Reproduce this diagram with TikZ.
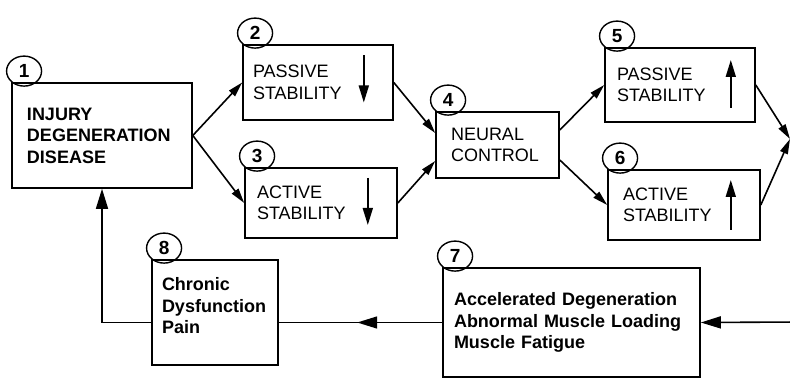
\documentclass[tikz,border=0pt]{standalone}
\usepackage{fontspec}
\setmainfont{Liberation Sans}
\usetikzlibrary{arrows.meta,calc,shapes.geometric,decorations.markings}

\begin{document}
\begin{tikzpicture}[x=1pt,y=1pt,
  font=\fontsize{18}{21.5}\selectfont,
  line width=1.6pt,
  box/.style={draw,rectangle,align=left,inner ysep=0pt},
  heavy/.style={font=\fontsize{18}{21.5}\selectfont\bfseries},
  num/.style={draw,ellipse,inner sep=0pt,minimum width=35pt,minimum height=30pt,
    line width=1.4pt,anchor=south west,font=\fontsize{19}{19}\selectfont\bfseries},
  link/.style={-{Triangle[length=15pt,width=8pt]}},
  bigtip/.style={-{Triangle[length=20pt,width=12pt]}},
  inarrow/.style={line width=1.7pt,-{Triangle[length=17pt,width=10pt]}},
  midtip/.style={postaction={decorate},decoration={markings,
    mark=at position 0.52 with {\arrow{Triangle[length=20pt,width=12pt]}}}}]
\path[use as bounding box] (0,0) rectangle (790,380);
\clip (0,0) rectangle (790,380);

% boxes
\node[box,heavy,text width=150pt,inner xsep=15pt,minimum height=105pt] (injury) at (102,244.5)
  {INJURY\\DEGENERATION\\DISEASE};
\node[box,text width=130pt,inner xsep=10pt,minimum height=75pt] (passive) at (318,297.5)
  {PASSIVE\\STABILITY};
\node[box,text width=128pt,inner xsep=12pt,minimum height=70pt] (active) at (321,177)
  {ACTIVE\\STABILITY};
\node[box,text width=93pt,inner xsep=15pt,minimum height=66pt] (neural) at (497.5,235)
  {NEURAL\\CONTROL};
\node[box,text width=126pt,inner xsep=12pt,minimum height=74pt] (passiveup) at (680,295)
  {PASSIVE\\STABILITY};
\node[box,text width=122pt,inner xsep=15pt,minimum height=70pt] (activeup) at (684,175)
  {ACTIVE\\STABILITY};
\node[box,heavy,text width=235pt,inner xsep=11pt,minimum height=109pt] (loading) at (571.5,57.5)
  {Accelerated Degeneration\\Abnormal Muscle Loading\\Muscle Fatigue};
\node[box,heavy,text width=106pt,inner xsep=10pt,minimum height=105pt] (chronic) at (215,67.5)
  {Chronic\\Dysfunction\\Pain\\[-8pt]\mbox{}};

% numbers
\node[num] (n1) at (injury.north west) {1};
\node[num] (n2) at (passive.north west) {2};
\node[num] (n3) at (active.north west) {3};
\node[num] (n4) at (neural.north west) {4};
\node[num] (n5) at (passiveup.north west) {5};
\node[num] (n6) at (activeup.north west) {6};
\node[num] (n7) at (loading.north west) {7};
\node[num] (n8) at (chronic.north west) {8};

% up and down arrows
\draw[inarrow] ($(passive.east)+(-30,27)$) -- ($(passive.east)+(-30,-20)$);
\draw[inarrow] ($(active.east)+(-30,25)$) -- ($(active.east)+(-30,-22)$);
\draw[inarrow] ($(passiveup.east)+(-25,-23)$) -- ($(passiveup.east)+(-25,25)$);
\draw[inarrow] ($(activeup.east)+(-30,-25)$) -- ($(activeup.east)+(-30,25)$);

% connectors
\draw[link] (injury.east) -- (passive.west);
\draw[link] (injury.east) -- (active.west);
\draw[link] (passive.east) -- ([yshift=12pt]neural.west);
\draw[link] (active.east) -- ([yshift=-16pt]neural.west);
\draw[link] ([yshift=15pt]neural.east) -- (passiveup.west);
\draw[link] ([yshift=-15pt]neural.east) -- (activeup.west);
\coordinate (merge) at (790,241);
\draw[link] (passiveup.east) -- (merge);
\draw[link] (activeup.east) -- (merge);
\coordinate (feed) at (800,58);
\draw[bigtip] (feed) -- (loading.east);
\draw[midtip] (loading.west) -- (loading.west -| chronic.east);
\draw[bigtip] (chronic.west |- loading.west) -| (injury.south);
\end{tikzpicture}
\end{document}
